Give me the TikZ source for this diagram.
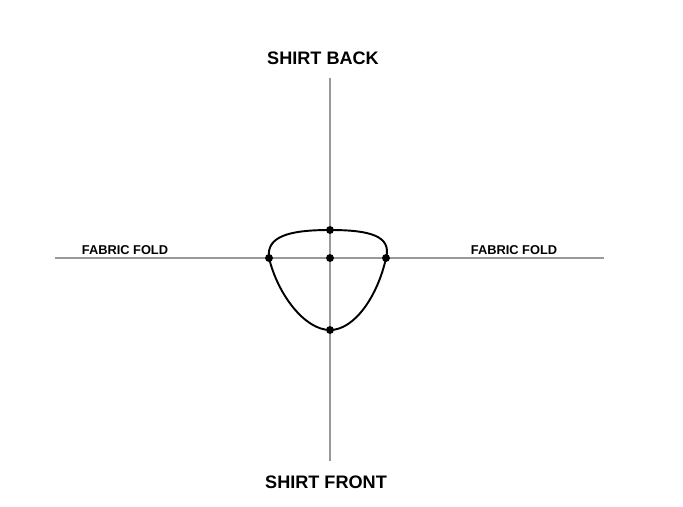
\documentclass[tikz,border=0pt]{standalone}
\usepackage{fontspec}
\setmainfont{Liberation Sans}
\usetikzlibrary{positioning}
\begin{document}
\begin{tikzpicture}[x=0.02cm, y=-0.02cm,
	axis/.style={draw=gray!80, line width=0.7pt},
	dot/.style={shape=circle, fill=black, inner sep=0pt, minimum size=4.5pt},
	title/.style={font=\bfseries\fontsize{10.3}{12}\selectfont},
	fold/.style={font=\bfseries\fontsize{7.3}{8}\selectfont}]
	\useasboundingbox (0,0) rectangle (683,507);
	% axes
	\coordinate (top) at (330,78);
	\coordinate (bot) at (330,461);
	\coordinate (lft) at (55,258);
	\coordinate (rgt) at (604,258);
	\draw[axis] (top) -- (bot);
	\draw[axis] (lft) -- (rgt);
	% points
	\node[dot] (c) at (330,258) {};
	\node[dot] (n) at (330,230) {};
	\node[dot] (s) at (330,330) {};
	\node[dot] (w) at (269,258) {};
	\node[dot] (e) at (386,258) {};
	% curve
	\draw[line width=1.1pt] (w.center) .. controls (266,236) and (290,230) .. (n.center)
		.. controls (370,230) and (392,236) .. (e.center)
		.. controls (378,295) and (355,330) .. (s.center)
		.. controls (305,330) and (278,295) .. (w.center);
	% labels
	\node[title] (back) at (323,58) {SHIRT BACK};
	\node[title] (front) at (326,482) {SHIRT FRONT};
	\node[fold] (foldl) at (125,250) {FABRIC FOLD};
	\node[fold] (foldr) at (514,250) {FABRIC FOLD};
\end{tikzpicture}
\end{document}
